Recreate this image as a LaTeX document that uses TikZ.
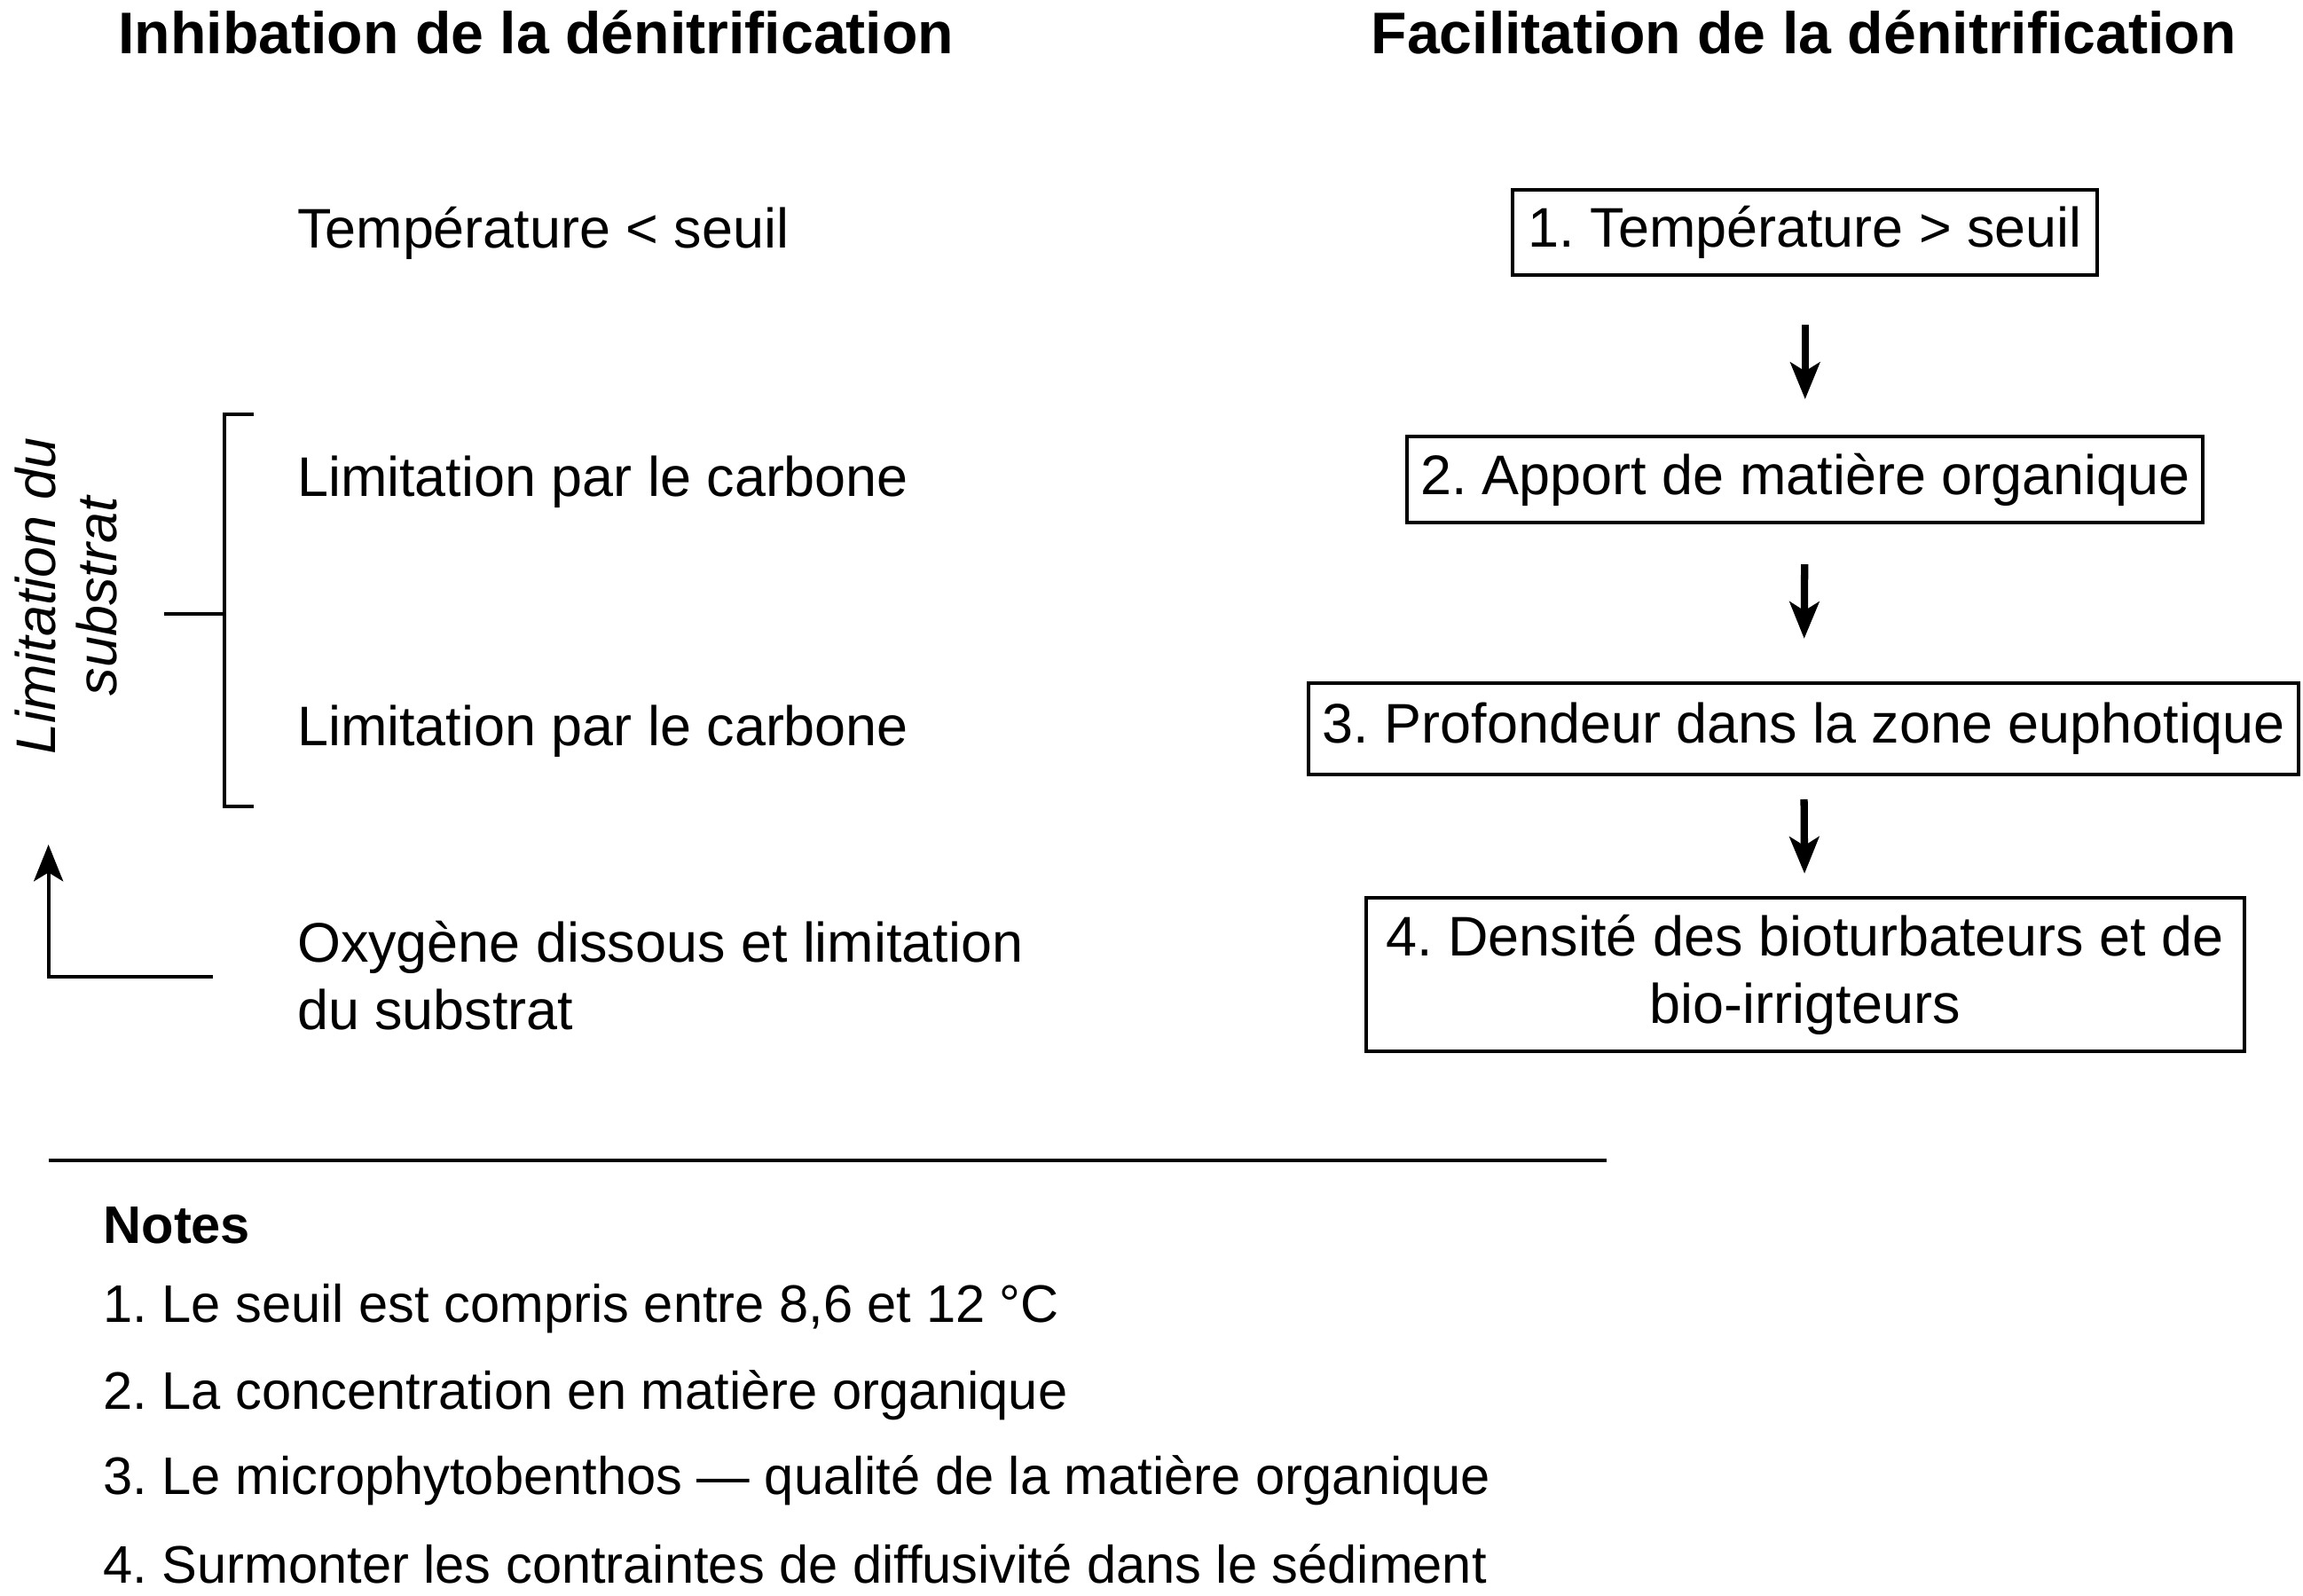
\documentclass[tikz,border=0pt]{standalone}
\usepackage{fontspec}
\setmainfont{Liberation Sans}
\usetikzlibrary{arrows.meta}
\frenchspacing

\begin{document}
\begin{tikzpicture}[x=0.5pt,y=-0.5pt,
        every node/.style={font=\fontsize{19}{23}\selectfont},
        titre/.style={font=\fontsize{20}{24}\selectfont\bfseries},
        gauche/.style={anchor=west,align=left,inner sep=0pt},
        note/.style={gauche,font=\fontsize{18}{22}\selectfont},
        boite/.style={draw,line width=1.2pt,inner sep=0pt,align=center},
        pointe/.style={-{Stealth[length=12.5pt,width=10pt,inset=3pt]}},
        fleche/.style={pointe,line width=2.5pt},
        trait/.style={line width=1.2pt}]
        \useasboundingbox (0,0) rectangle (1568,1086.6);

        \node[titre] (TG) at (365,22) {Inhibation de la dénitrification};
        \node[titre] (TD) at (1228,22) {Facilitation de la dénitrification};

        \node[gauche] (G1) at (202,159) {Température < seuil};
        \node[gauche] (G2) at (202,328) {Limitation par le carbone};
        \node[gauche] (G3) at (202,498) {Limitation par le carbone};
        \node[gauche] (G4) at (202,664) {Oxygène dissous et limitation\\du substrat};

        \node[rotate=90,align=center,font=\fontsize{19}{21}\selectfont\itshape] (S) at (45,406) {Limitation du\\substrat};

        \coordinate (B1) at (173,282);
        \coordinate (B2) at (173,549);
        \coordinate (B3) at (112,418);
        \coordinate (A0) at (145,665);
        \coordinate (A1) at (33,575);
        \draw[trait] (B1) -- ++(-20,0) -- ++(0,267) -- (B2);
        \draw[trait] (B3) -- ++(41,0);
        \draw[pointe,line width=1.2pt] (A0) -| (A1);

        \node[boite,minimum width=199pt,minimum height=29pt] (D1) at (1229,158) {1. Température > seuil};
        \node[boite,minimum width=271pt,minimum height=29.5pt] (D2) at (1229,326.5) {2. Apport de matière organique};
        \node[boite,minimum width=337pt,minimum height=31pt] (D3) at (1228,496) {3. Profondeur dans la zone euphotique};
        \node[boite,minimum width=299pt,minimum height=52.5pt] (D4) at (1229,663.5) {4. Densité des bioturbateurs et de\\bio-irrigteurs};

        \draw[fleche,shorten <=16.5pt,shorten >=12pt] (D1) -- (D2);
        \draw[fleche,shorten <=13.5pt,shorten >=14.5pt] (D2) -- (D3);
        \draw[fleche,shorten <=8pt,shorten >=7.5pt] (D3) -- (D4);

        \coordinate (R0) at (33,790);
        \coordinate (R1) at (1094,790);
        \draw[line width=1.3pt] (R0) -- (R1);

        \node[gauche,font=\fontsize{18}{22}\selectfont\bfseries] (N0) at (70,834) {Notes};
        \node[note] (N1) at (70,891) {1. Le seuil est compris entre 8,6 et 12 °C};
        \node[note] (N2) at (70,950) {2. La concentration en matière organique};
        \node[note] (N3) at (70,1008) {3. Le microphytobenthos — qualité de la matière organique};
        \node[note] (N4) at (70,1065) {4. Surmonter les contraintes de diffusivité dans le sédiment};
    \end{tikzpicture}
\end{document}
